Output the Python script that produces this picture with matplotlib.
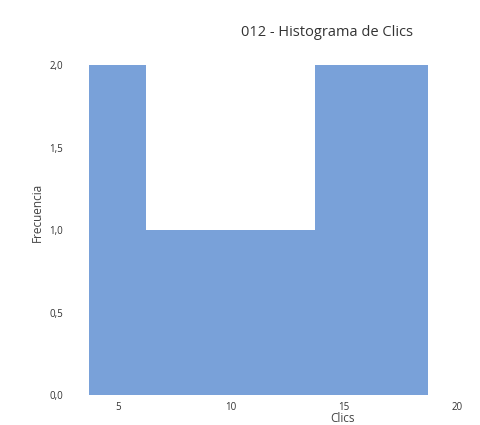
import matplotlib
matplotlib.use('Agg')
import matplotlib.pyplot as plt
from matplotlib.ticker import FuncFormatter

# histogram bins (edges) and counts
bin_edges = [3.75, 6.25, 8.75, 11.25, 13.75, 16.25, 18.75]
frecuencia = [2, 1, 1, 1, 2, 2]
x_ticks = [5, 10, 15, 20]
y_ticks = [0.0, 0.5, 1.0, 1.5, 2.0]

plt.rcParams['font.family'] = ['Open Sans', 'DejaVu Sans']

fig = plt.figure(figsize=(4.81, 4.25), dpi=100)
ax = fig.add_axes([0.186, 0.07, 0.787, 0.776])

ax.stairs(frecuencia, bin_edges, fill=True, color='#79a1d9', linewidth=0)

ax.set_xlim(3.75, 20.5)
ax.set_ylim(0, 2)
ax.set_xticks(x_ticks)
ax.set_yticks(y_ticks)
ax.yaxis.set_major_formatter(FuncFormatter(lambda v, p: f'{v:.1f}'.replace('.', ',')))
ax.tick_params(length=0, labelsize=7, colors='#333333')
ax.tick_params(axis='y', pad=19)
ax.tick_params(axis='x', pad=4.5)
for s in ax.spines.values():
    s.set_visible(False)

fig.text(327 / 481, 1 - 32 / 425, '012 - Histograma de Clics', ha='center', va='center',
         fontsize=10.5, color='#333333')
fig.text(37 / 481, 1 - 212 / 425, 'Frecuencia', rotation=90, ha='center', va='center',
         fontsize=8.5, color='#444444')
fig.text(343 / 481, 1 - 418 / 425, 'Clics', ha='center', va='center',
         fontsize=8.5, color='#444444')

fig.savefig('out.png', dpi=100)
